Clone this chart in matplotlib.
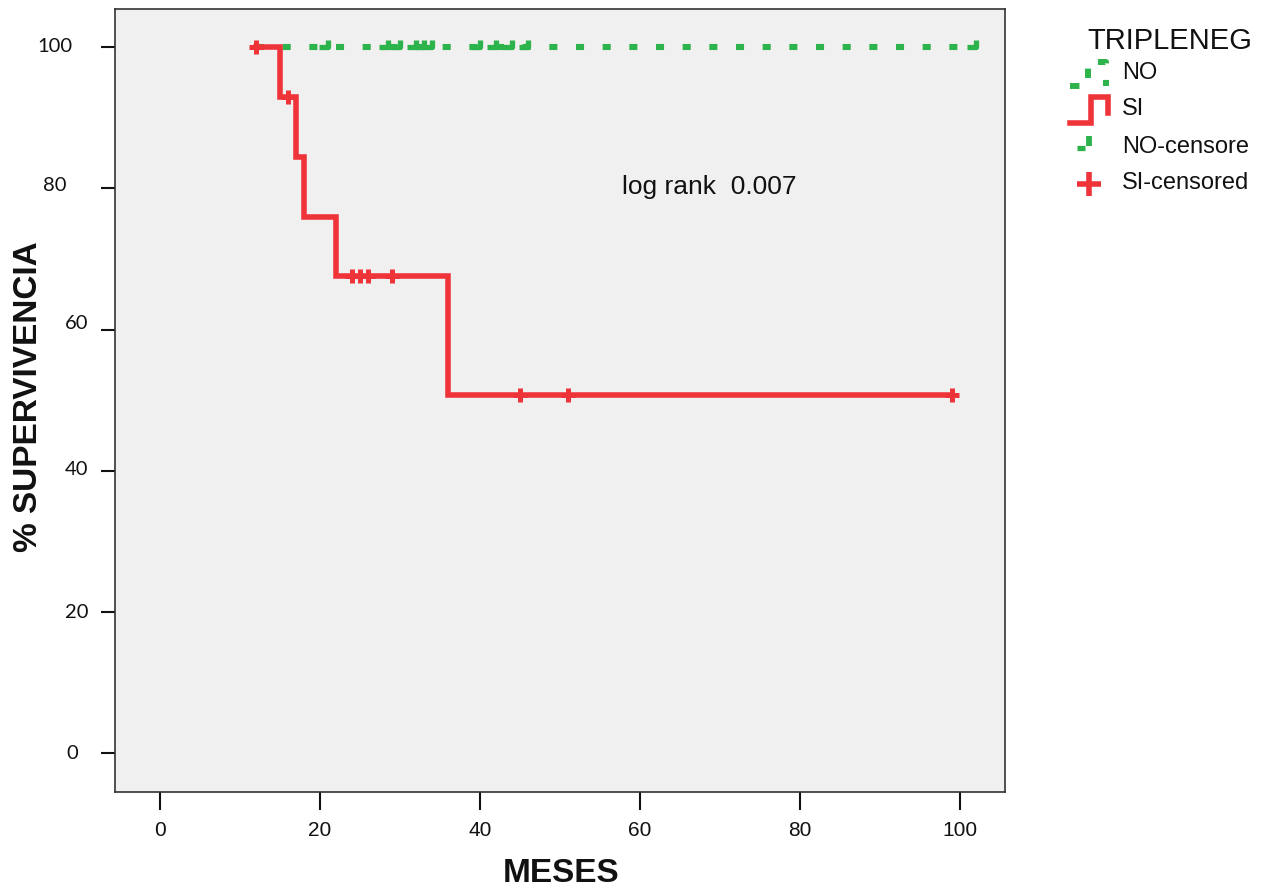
import numpy as np
import matplotlib
matplotlib.use('Agg')
import matplotlib.pyplot as plt
from matplotlib.lines import Line2D
from matplotlib.markers import MarkerStyle
from matplotlib.path import Path

plt.rcParams['lines.scale_dashes'] = False
plt.rcParams['font.family'] = ['Liberation Sans', 'DejaVu Sans']

# ---------------- data ----------------
si_times = [12, 15, 17, 18, 22, 36, 99]
si_surv = [100, 92.9, 84.4, 76.0, 67.6, 50.7, 50.7]
si_censor_times = [12, 16, 24, 25, 26, 29, 45, 51, 99]

no_times = [12, 102]
no_surv = [100, 100]
no_censor_times = [21, 28.5, 30, 32, 33, 34, 40, 42, 44, 46, 102]

x_ticks = [0, 20, 40, 60, 80, 100]
x_tick_labels = ['0', '20', '40', '60', '80', '100']
y_ticks = [0, 20, 40, 60, 80, 100]
y_tick_labels = ['0', '20', '40', '60', '80', '100']

legend_title = 'TRIPLENEG'
legend_labels = ['NO', 'SI', 'NO-censore', 'SI-censored']
annotation = 'log rank  0.007'
x_label = 'MESES'
y_label = '% SUPERVIVENCIA'

# ---------------- style ----------------
W, H = 1267, 894
DPI = 100
RED = '#EE3339'
GREEN = '#2DB34B'
BG = '#F0F0F0'

fig = plt.figure(figsize=(W / DPI, H / DPI), dpi=DPI)
fig.patch.set_facecolor('white')

ax = fig.add_axes([115 / W, 1 - 792 / H, (1005 - 115) / W, (792 - 9) / H])
ax.set_facecolor(BG)
ax.set_xlim(-5.6, 105.6)
ax.set_ylim(-5.5, 105.4)

for sp in ax.spines.values():
    sp.set_color('#333333')
    sp.set_linewidth(1.2)

# NO curve (dotted green)
ax.plot(no_times, no_surv, color=GREEN, lw=4.4, ls=(0, (5.8, 13.4)),
        dash_capstyle='butt', drawstyle='steps-post', zorder=3)
tick_marker = MarkerStyle(Path([(-1, 0), (0, 0), (0, 0.85)]))
no_c_vals = [no_surv[np.searchsorted(no_times, t, side='right') - 1] for t in no_censor_times]
ax.plot(no_censor_times, no_c_vals, ls='none', marker=tick_marker, ms=12.5,
        mew=3.8, mec=GREEN, mfc='none', zorder=4)

# SI curve (solid red)
ax.plot(si_times, si_surv, color=RED, lw=4.0, drawstyle='steps-post',
        solid_joinstyle='miter', zorder=5)
si_c_vals = [si_surv[np.searchsorted(si_times, t, side='right') - 1] for t in si_censor_times]
ax.plot(si_censor_times, si_c_vals, ls='none', marker='+', ms=10.5, mew=3.6,
        color=RED, zorder=6)

ax.text(57.75, 80.2, annotation, fontsize=19, va='center', ha='left',
        color='#111111', zorder=7)

# ticks
ax.set_xticks(x_ticks)
ax.set_xticklabels(x_tick_labels, fontsize=15, color='#111111')
ax.tick_params(axis='x', length=13, width=1.5, pad=8, color='#111111')
ax.set_yticks(y_ticks)
ax.set_yticklabels([])
ax.tick_params(axis='y', length=10, width=1.5, color='#111111')

# y tick labels (manually placed like the edited original)
y_label_right_px = [78, 88, 88, 88, 67, 72]
y_label_dy_px = [0, 1, -1, -6, -3, -1]
for val, lab, rx, dy in zip(y_ticks, y_tick_labels, y_label_right_px, y_label_dy_px):
    y_disp = ax.transData.transform((0, val))[1] - dy
    fig.text(rx / W, y_disp / H, lab, ha='right', va='center', fontsize=14.5,
             family=['Lato', 'DejaVu Sans'], color='#111111')

fig.text(561 / W, 1 - 874 / H, x_label, ha='center', va='center',
         fontsize=24, fontweight='bold', color='#111111')
fig.text(29 / W, 1 - 397 / H, y_label, ha='center', va='center', rotation=90,
         fontsize=24, fontweight='bold', color='#111111')

# ---------------- legend (drawn in pixel coordinates) ----------------
lax = fig.add_axes([0, 0, 1, 1], zorder=10)
lax.set_xlim(0, W)
lax.set_ylim(H, 0)
lax.axis('off')
lax.patch.set_alpha(0)

lax.text(1087, 41, legend_title, fontsize=21, ha='left', va='center', color='#111111')
entry_y = [73, 109, 147, 183]
for yv, lab in zip(entry_y, legend_labels):
    lax.text(1122, yv, lab, fontsize=17, ha='left', va='center', color='#111111')

lax.add_line(Line2D([1070, 1088, 1088, 1106, 1106], [86, 86, 62, 62, 86],
                    color=GREEN, lw=4.3, ls=(0, (6.8, 11.9)), dash_capstyle='butt'))
lax.add_line(Line2D([1070, 1091, 1091, 1108, 1108], [123, 123, 97, 97, 113],
                    color=RED, lw=4.0, solid_joinstyle='miter'))
lax.add_line(Line2D([1077, 1085], [148, 148], color=GREEN, lw=3.8, solid_capstyle='butt'))
lax.add_line(Line2D([1088.5, 1088.5], [136, 146], color=GREEN, lw=4.2, solid_capstyle='butt'))
lax.add_line(Line2D([1077, 1101], [184, 184], color=RED, lw=4.0, solid_capstyle='butt'))
lax.add_line(Line2D([1089, 1089], [172, 196], color=RED, lw=4.0, solid_capstyle='butt'))

fig.savefig('out.png', dpi=DPI)
